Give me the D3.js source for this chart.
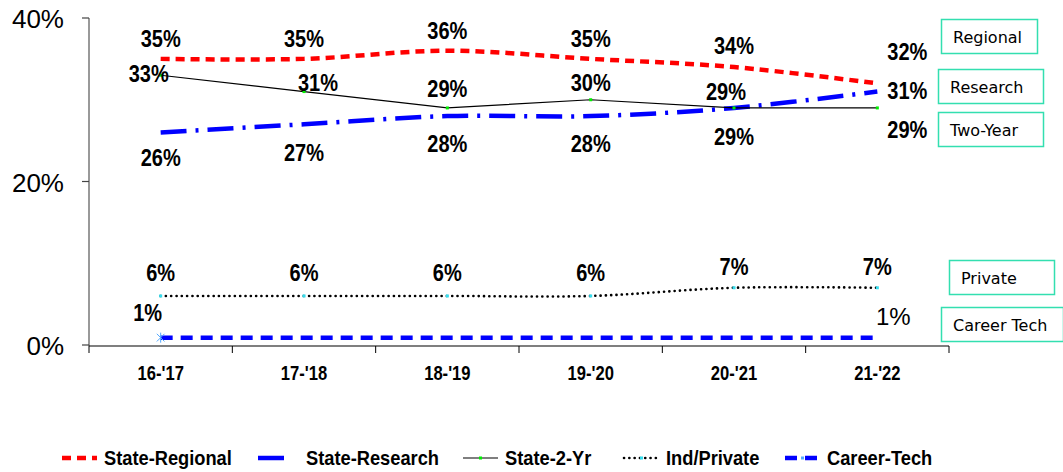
<!DOCTYPE html>
<html>
<head>
<meta charset="utf-8">
<script src="https://cdn.jsdelivr.net/npm/d3@7"></script>
<style>
  body { margin: 0; background: #fff; }
  svg { display: block; }
</style>
</head>
<body>
<svg id="chart" width="1063" height="472"></svg>
<script>
// data
var years = ["16-'17", "17-'18", "18-'19", "19-'20", "20-'21", "21-'22"];
var stateRegional = [35, 35, 36, 35, 34, 32];
var stateResearch = [26, 27, 28, 28, 29, 31];
var state2Yr = [33, 31, 29, 30, 29, 29];
var indPrivate = [6, 6, 6, 6, 7, 7];
var careerTech = [0.9, 0.9, 0.9, 0.9, 0.9, 0.9];
var yTicks = [0, 20, 40];
var boxLabels = ["Regional", "Research", "Two-Year", "Private", "Career Tech"];

var svg = d3.select("#chart");
var x = d3.scalePoint().domain(years).range([89, 949]).padding(0.5);
var y = d3.scaleLinear().domain([0, 40]).range([345, 18]);
var band = d3.scaleBand().domain(years).range([89, 949]);

// y axis
svg.append("line").attr("x1", 89).attr("x2", 89).attr("y1", 18).attr("y2", 346)
  .attr("stroke", "#777").attr("stroke-width", 1.5);
yTicks.forEach(function (t) {
  svg.append("line").attr("x1", 82).attr("x2", 89).attr("y1", y(t)).attr("y2", y(t))
    .attr("stroke", "#444").attr("stroke-width", 1.2);
  svg.append("text").attr("x", 64).attr("y", y(t) + 10)
    .attr("text-anchor", "end")
    .style("font-family", "Liberation Sans").style("font-size", "26px")
    .text(t + "%");
});

// x axis
svg.append("line").attr("x1", 89).attr("x2", 949).attr("y1", 346).attr("y2", 346)
  .attr("stroke", "#000").attr("stroke-width", 1.2);
years.concat(["end"]).forEach(function (d, i) {
  var xx = i < years.length ? band(d) : 949;
  svg.append("line").attr("x1", xx).attr("x2", xx).attr("y1", 346).attr("y2", 353)
    .attr("stroke", "#000").attr("stroke-width", 1);
});

function condensed(sel, px, py, k) {
  return sel.attr("transform", "translate(" + px + "," + py + ") scale(" + k + ",1)");
}

years.forEach(function (d) {
  condensed(svg.append("text"), x(d), 380, 0.83)
    .attr("text-anchor", "middle")
    .style("font-family", "Liberation Sans").style("font-weight", "bold").style("font-size", "20px")
    .text(d);
});

var smooth = d3.curveCatmullRom.alpha(0);
var series = [
  { name: "State-Regional", values: stateRegional, color: "#ff0000", width: 4.5, dash: "9,6", curve: smooth },
  { name: "State-Research", values: stateResearch, color: "#0000ff", width: 4.5, dash: "26,9,3,9", curve: smooth },
  { name: "State-2-Yr", values: state2Yr, color: "#000000", width: 1.2, dash: null, curve: d3.curveLinear, marker: "square", mcolor: "#00ee00" },
  { name: "Ind/Private", values: indPrivate, color: "#000000", width: 2.6, dash: "0.1,5.2", cap: "round", curve: smooth, marker: "square", mcolor: "#33ddee" },
  { name: "Career-Tech", values: careerTech, color: "#0000ff", width: 4.5, dash: "12,8", curve: d3.curveLinear, marker: "star", mcolor: "#55aaff" }
];

series.forEach(function (s) {
  var line = d3.line().x(function (v, i) { return x(years[i]); }).y(function (v) { return y(v); }).curve(s.curve);
  svg.append("path").datum(s.values).attr("d", line)
    .attr("fill", "none").attr("stroke", s.color).attr("stroke-width", s.width)
    .attr("stroke-dasharray", s.dash).attr("stroke-linecap", s.cap || "butt");
});

series.forEach(function (s) {
  if (!s.marker) return;
  s.values.forEach(function (v, i) {
    var px = x(years[i]), py = y(v);
    if (s.marker === "square") {
      svg.append("rect").attr("x", px - 1.5).attr("y", py - 1.5).attr("width", 3).attr("height", 3).attr("fill", s.mcolor);
    } else if (i === 0) {
      svg.append("path").attr("d", d3.symbol(d3.symbolTimes, 40)())
        .attr("transform", "translate(" + px + "," + py + ")")
        .attr("stroke", s.mcolor).attr("fill", s.mcolor).attr("stroke-width", 1);
      svg.append("line").attr("x1", px).attr("x2", px).attr("y1", py - 5).attr("y2", py + 5)
        .attr("stroke", s.mcolor).attr("stroke-width", 1);
    }
  });
});

// data label offsets (dx, dy of label centre from point)
var labelOffsets = {
  "State-Regional": [[0, -20], [0, -20], [0, -20], [0, -20], [0, -21], [30, -31]],
  "State-Research": [[0, 26], [0, 29], [0, 28], [0, 28], [0, 29], [30, -1]],
  "State-2-Yr": [[-12, -1], [14, -9], [0, -19], [0, -17], [-8, -16], [30, 22]],
  "Ind/Private": [[0, -23], [0, -23], [0, -23], [0, -23], [0, -21], [0, -21]],
  "Career-Tech": [[-13, -25], null, null, null, null, [16, -21]]
};

series.forEach(function (s) {
  s.values.forEach(function (v, i) {
    var off = labelOffsets[s.name][i];
    if (!off) return;
    var plain = s.name === "Career-Tech" && i === years.length - 1;
    condensed(svg.append("text"), x(years[i]) + off[0], y(v) + off[1] + 8, plain ? 1 : 0.87)
      .attr("text-anchor", "middle")
      .style("font-family", "Liberation Sans")
      .style("font-weight", plain ? "normal" : "bold")
      .style("font-size", plain ? "24px" : "23px")
      .text(Math.round(v) + "%");
  });
});

// boxed series names on the right
var boxPos = [[941, 19, 96], [938, 69, 105], [938, 112, 105], [949, 260, 105], [941, 307, 122]];
boxLabels.forEach(function (name, i) {
  var b = boxPos[i];
  svg.append("rect").attr("x", b[0] + 0.5).attr("y", b[1] + 0.5).attr("width", b[2]).attr("height", 34)
    .attr("fill", "#fff").attr("stroke", "#33dfb0").attr("stroke-width", 1.5);
  svg.append("text").attr("x", b[0] + 12).attr("y", b[1] + 24)
    .style("font-family", "DejaVu Sans").style("font-size", "16px")
    .text(name);
});

// legend
var legendX = [62, 258, 463, 624, 785];
series.forEach(function (s, i) {
  var lx = legendX[i], ly = 458;
  var sw = i === 1 ? 26 : 35;
  svg.append("line").attr("x1", lx).attr("x2", lx + sw).attr("y1", ly).attr("y2", ly)
    .attr("stroke", s.color).attr("stroke-width", s.width)
    .attr("stroke-dasharray", i === 1 ? null : s.dash).attr("stroke-linecap", s.cap || "butt");
  if (s.marker) {
    svg.append("rect").attr("x", lx + sw / 2 - 1.5).attr("y", ly - 1.5).attr("width", 3).attr("height", 3).attr("fill", s.mcolor);
  }
  condensed(svg.append("text"), lx + sw + (i === 1 ? 22 : 7), ly + 7, 0.87)
    .style("font-family", "Liberation Sans").style("font-weight", "bold").style("font-size", "21px")
    .text(s.name);
});
</script>
</body>
</html>
